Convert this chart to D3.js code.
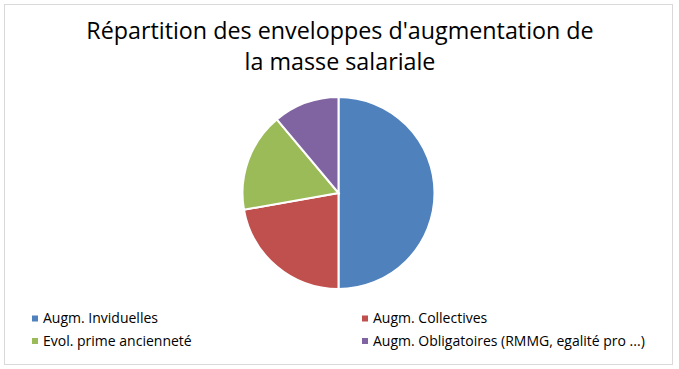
<!DOCTYPE html>
<html>
<head>
<meta charset="utf-8">
<script src="https://cdn.jsdelivr.net/npm/d3@7"></script>
<style>
  body { margin: 0; background: #fff; }
  text { font-family: "Open Sans", sans-serif; fill: #000; }
</style>
</head>
<body>
<div id="chart"></div>
<script>
// data
var categories = ["Augm. Inviduelles", "Augm. Collectives", "Evol. prime ancienneté", "Augm. Obligatoires (RMMG, egalité pro ...)"];
var values = [45000, 20000, 15000, 10000];
var colors = ["#4F81BD", "#C0504D", "#9BBB59", "#8064A2"];
var titleLines = ["Répartition des enveloppes d'augmentation de", "la masse salariale"];

var width = 679, height = 369;

var svg = d3.select("#chart").append("svg")
    .attr("width", width)
    .attr("height", height);

// outer frame
svg.append("rect")
    .attr("x", 4.5).attr("y", 4.5)
    .attr("width", 668).attr("height", 360)
    .attr("fill", "#fff")
    .attr("stroke", "#d9d9d9");

// title
svg.selectAll(".title")
    .data(titleLines)
  .enter().append("text")
    .attr("class", "title")
    .attr("x", 340)
    .attr("y", function(d, i) { return 39 + i * 31; })
    .attr("text-anchor", "middle")
    .style("font-size", "23.3px")
    .text(function(d) { return d; });

// pie
var radius = 96;
var pie = d3.pie().sort(null)(values);
var arc = d3.arc().innerRadius(0).outerRadius(radius);

var g = svg.append("g")
    .attr("transform", "translate(338.5,193)");

g.selectAll("path")
    .data(pie)
  .enter().append("path")
    .attr("d", arc)
    .attr("fill", function(d, i) { return colors[i]; })
    .attr("stroke", "#fff")
    .attr("stroke-width", 2);

// legend
var legend = svg.selectAll(".legend")
    .data(categories)
  .enter().append("g")
    .attr("class", "legend")
    .attr("transform", function(d, i) {
      return "translate(" + (i % 2 ? 362 : 32) + "," + (318.5 + Math.floor(i / 2) * 22.5) + ")";
    });

legend.append("rect")
    .attr("x", 0).attr("y", -3)
    .attr("width", 6).attr("height", 6)
    .attr("fill", function(d, i) { return colors[i]; });

legend.append("text")
    .attr("x", 11)
    .attr("y", 0)
    .attr("dy", "0.35em")
    .style("font-size", "14px")
    .text(function(d) { return d; });
</script>
</body>
</html>
